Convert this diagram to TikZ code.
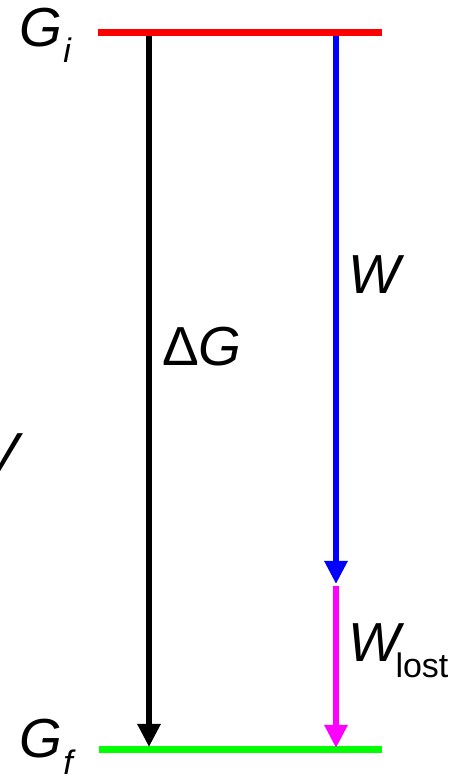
\documentclass[tikz,border=0pt]{standalone}
\usepackage{fontspec}
\setmainfont{Liberation Sans}
\usetikzlibrary{arrows.meta}
\definecolor{levelred}{HTML}{FF0000}
\definecolor{levelgreen}{HTML}{00FF00}
\definecolor{workblue}{HTML}{0000FF}
\definecolor{lostpink}{HTML}{FF00FF}

\begin{document}
\begin{tikzpicture}[x=1pt, y=1pt, line cap=butt,
    lbl/.style={anchor=base west, inner sep=0pt, font=\fontsize{55}{57}\selectfont\itshape},
    sub/.style={anchor=base west, inner sep=0pt, font=\fontsize{34}{36}\selectfont},
    flow/.style={line width=6.5pt, -{Triangle[length=23pt, width=22pt]}}]
  \useasboundingbox (0,0) rectangle (461,778);
  % energy levels
  \coordinate (gi-l) at (98,745.5);  \coordinate (gi-r) at (382,745.5);
  \coordinate (gf-l) at (99,28);     \coordinate (gf-r) at (382,28);
  \draw[levelred, line width=7pt] (gi-l) -- (gi-r);
  \draw[levelgreen, line width=7pt] (gf-l) -- (gf-r);
  % arrows
  \coordinate (dg-top) at (149,742); \coordinate (dg-bot) at (149,31);
  \coordinate (w-top) at (336,742);  \coordinate (w-bot) at (336,194);
  \coordinate (wl-top) at (336,192); \coordinate (wl-bot) at (336,30);
  \draw[flow, black] (dg-top) -- (dg-bot);
  \draw[flow, workblue] (w-top) -- (w-bot);
  \draw[flow, lostpink] (wl-top) -- (wl-bot);
  % labels
  \node[lbl] (gi) at (19,731) {G};
  \node[sub, font=\fontsize{34}{36}\selectfont\itshape] (gi-s) at (gi.base east) [xshift=1pt, yshift=-16pt] {i};
  \node[lbl] (gf) at (19,20) {G};
  \node[sub, font=\fontsize{34}{36}\selectfont\itshape] (gf-s) at (gf.base east) [xshift=1pt, yshift=-16pt] {f};
  \node[lbl] (dg) at (162,412) {{\upshape Δ}G};
  \node[lbl] (w) at (348,484) {W};
  \node[lbl] (wl) at (348,116) {W};
  \node[sub] (wl-s) at (wl.base east) [xshift=-5pt, yshift=-16pt] {lost};
  \node[lbl] (v) at (-18,306) {V};
\end{tikzpicture}
\end{document}
